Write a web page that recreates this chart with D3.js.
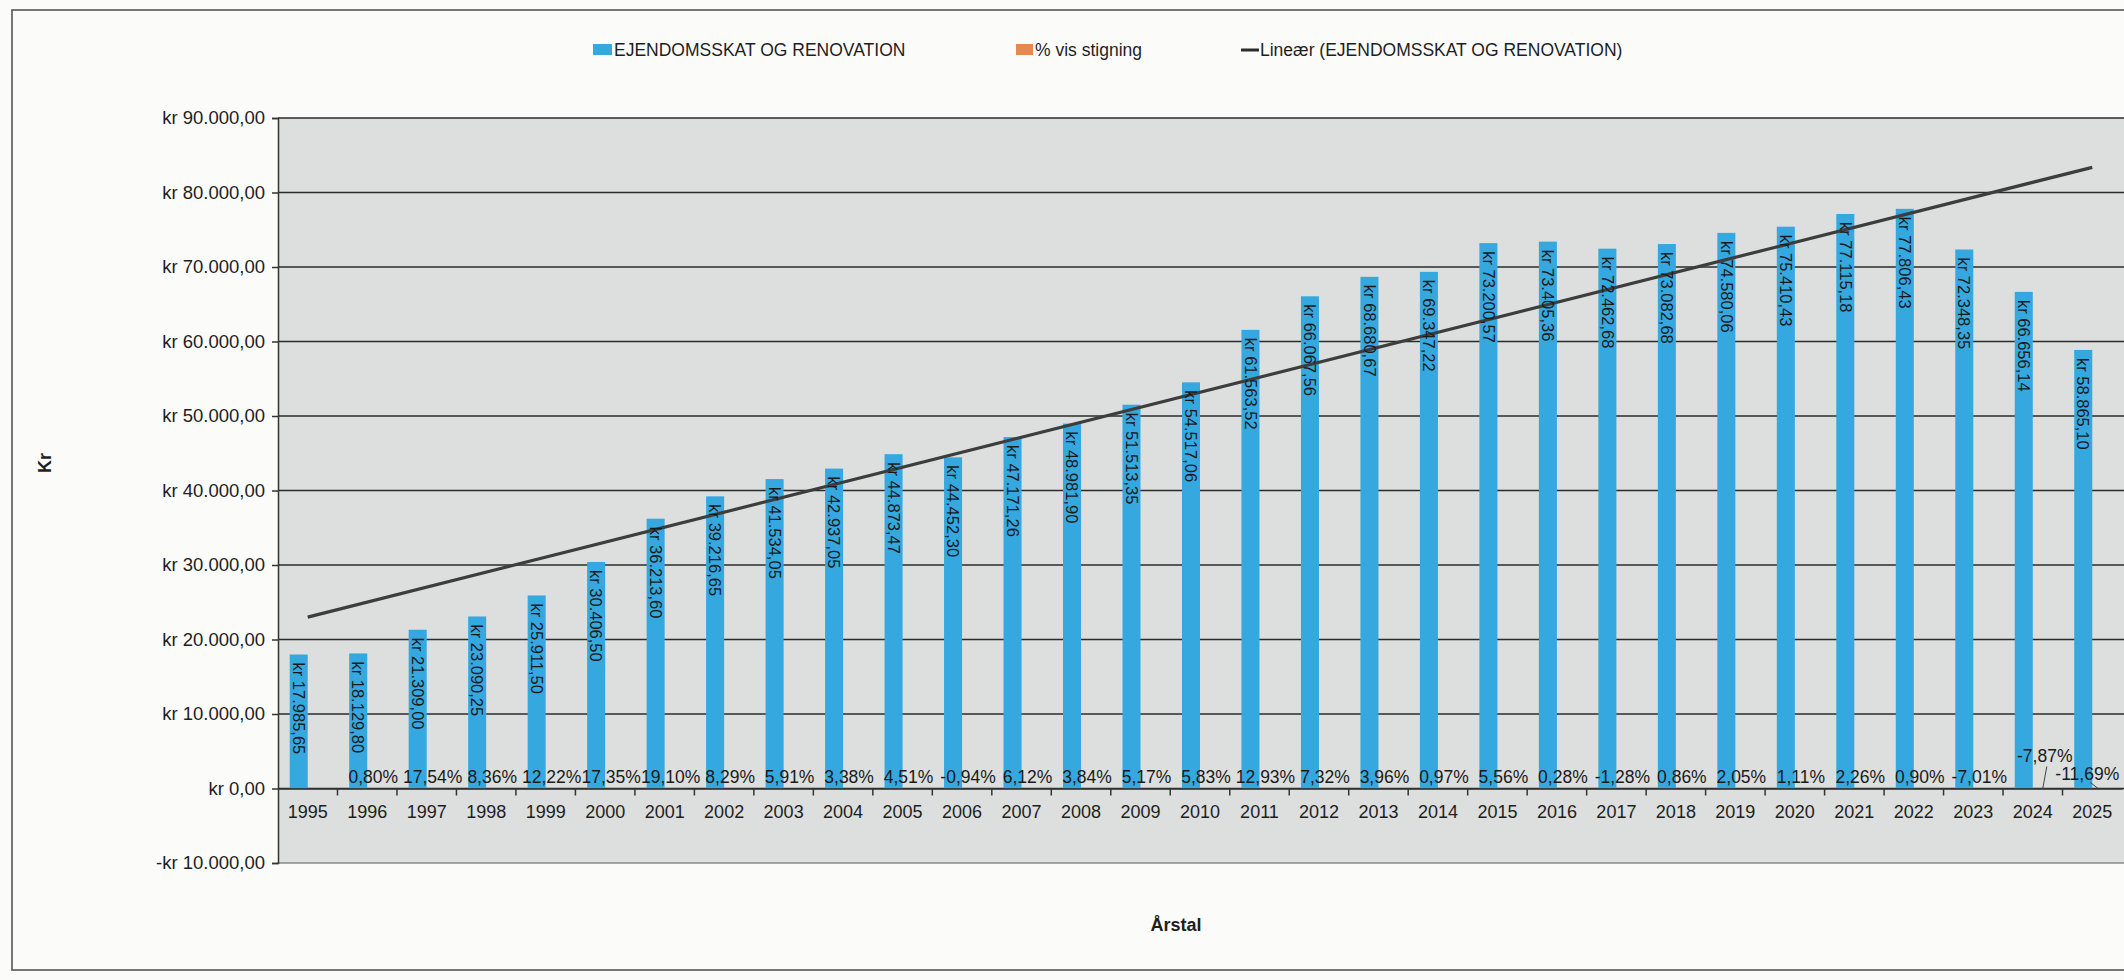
<!DOCTYPE html>
<html>
<head>
<meta charset="utf-8">
<script src="https://cdn.jsdelivr.net/npm/d3@7"></script>
<style>
  html, body { margin: 0; padding: 0; background: #fbfbfa; }
  svg { display: block; font-family: "Liberation Sans", Arial, sans-serif; }
</style>
</head>
<body>
<div id="chart"></div>
<script>
// data
const years = ["1995","1996","1997","1998","1999","2000","2001","2002","2003","2004","2005",
  "2006","2007","2008","2009","2010","2011","2012","2013","2014","2015",
  "2016","2017","2018","2019","2020","2021","2022","2023","2024","2025"];

const kroner = [17985.65, 18129.80, 21309.00, 23090.25, 25911.50, 30406.50, 36213.60, 39216.65,
  41534.05, 42937.05, 44873.47, 44452.30, 47171.26, 48981.90, 51513.35, 54517.06,
  61563.52, 66067.56, 68680.67, 69347.22, 73200.57, 73405.36, 72462.68, 73082.68,
  74580.06, 75410.43, 77115.18, 77806.43, 72348.35, 66656.14, 58865.10];

// "% vis stigning" (plotted on the kr axis, so the bars are invisible)
const pctIncrease = [null, 0.80, 17.54, 8.36, 12.22, 17.35, 19.10, 8.29, 5.91, 3.38, 4.51,
  -0.94, 6.12, 3.84, 5.17, 5.83, 12.93, 7.32, 3.96, 0.97, 5.56,
  0.28, -1.28, 0.86, 2.05, 1.11, 2.26, 0.90, -7.01, -7.87, -11.69];

const yTicks = [-10000, 0, 10000, 20000, 30000, 40000, 50000, 60000, 70000, 80000, 90000];

const seriesNames = ["EJENDOMSSKAT OG RENOVATION", "% vis stigning", "Lineær (EJENDOMSSKAT OG RENOVATION)"];

const W = 2124, H = 980;
const BLUE = "#35a8e0", ORANGE = "#e8874f", INK = "#1e1e1e";

const dk = d3.formatLocale({ decimal: ",", thousands: ".", grouping: [3], currency: ["kr ", ""], minus: "-" });
const fmtKr = dk.format("$,.2f");
const fmtPct = v => dk.format(".2f")(v) + "%";

const svg = d3.select("#chart").append("svg")
    .attr("width", W)
    .attr("height", H);

// outer chart border
svg.append("rect")
    .attr("x", 12).attr("y", 10)
    .attr("width", W + 20).attr("height", 960)
    .attr("fill", "none").attr("stroke", "#555").attr("stroke-width", 1.6);

// scales
const x0 = d3.scaleBand().domain(years).range([278, 2122]).paddingInner(0).paddingOuter(0);
const x1 = d3.scaleBand().domain(["kr", "pct"]).range([0, x0.bandwidth()]).paddingInner(0).paddingOuter(0.65);
const y = d3.scaleLinear().domain([-10000, 90000]).range([863, 118]);

// plot area
svg.append("rect")
    .attr("x", x0.range()[0]).attr("y", y(90000))
    .attr("width", x0.range()[1] - x0.range()[0] + 4)
    .attr("height", y(-10000) - y(90000))
    .attr("fill", "#dcdfdd");

// gridlines
svg.append("g")
    .selectAll("line")
    .data(yTicks)
    .join("line")
    .attr("x1", x0.range()[0]).attr("x2", W)
    .attr("y1", d => y(d)).attr("y2", d => y(d))
    .attr("stroke", d => d === -10000 ? "#8a8a8a" : "#2b2b2b")
    .attr("stroke-width", 1.5);

// y axis
const yAxis = svg.append("g")
    .attr("transform", `translate(${x0.range()[0]},0)`)
    .call(d3.axisLeft(y).tickValues(yTicks).tickFormat(fmtKr).tickSize(6).tickPadding(7));
yAxis.select(".domain").attr("stroke", "#333").attr("stroke-width", 1.5);
yAxis.selectAll(".tick line").attr("stroke", "#333").attr("stroke-width", 1.5);
yAxis.selectAll("text").attr("font-size", 18.5).attr("fill", INK);

// blue bars
const barW = x1.bandwidth();
svg.append("g")
    .selectAll("rect")
    .data(kroner)
    .join("rect")
    .attr("x", (d, i) => x0(years[i]) + x1("kr"))
    .attr("y", d => y(d))
    .attr("width", barW)
    .attr("height", d => y(0) - y(d))
    .attr("fill", BLUE);

// percent bars (a few kroner at most, practically flat)
svg.append("g")
    .selectAll("rect")
    .data(pctIncrease)
    .join("rect")
    .attr("x", (d, i) => x0(years[i]) + x1("pct"))
    .attr("y", d => y(Math.max(0, d || 0)))
    .attr("width", barW)
    .attr("height", d => Math.abs(y(0) - y(d || 0)))
    .attr("fill", ORANGE);

// x axis on zero line
const xAxis = svg.append("g")
    .attr("transform", `translate(0,${y(0)})`)
    .call(d3.axisBottom(x0).tickSize(0).tickPadding(17));
xAxis.select(".domain").attr("stroke", "#333").attr("stroke-width", 1.5);
xAxis.selectAll("text").attr("font-size", 18).attr("fill", INK);
// tick marks sit between categories
svg.append("g")
    .selectAll("line")
    .data(years.slice(1))
    .join("line")
    .attr("x1", d => x0(d)).attr("x2", d => x0(d))
    .attr("y1", y(0)).attr("y2", y(0) + 7)
    .attr("stroke", "#333").attr("stroke-width", 1.5);

// linear trendline (least squares on category index)
const n = kroner.length;
const mx = d3.mean(d3.range(n));
const my = d3.mean(kroner);
const slope = d3.sum(kroner, (v, i) => (i - mx) * (v - my)) / d3.sum(d3.range(n), i => (i - mx) * (i - mx));
const icpt = my - slope * mx;
const center = i => x0(years[i]) + x0.bandwidth() / 2;
svg.append("path")
    .datum([0, n - 1])
    .attr("d", d3.line().x(i => center(i)).y(i => y(icpt + slope * i)))
    .attr("fill", "none")
    .attr("stroke", "#3d3d3d")
    .attr("stroke-width", 3.2);

// value labels inside the blue bars, rotated
svg.append("g")
    .selectAll("text")
    .data(kroner)
    .join("text")
    .attr("transform", (d, i) => `translate(${x0(years[i]) + x1("kr") + barW / 2},${y(d) + 8}) rotate(90)`)
    .attr("dy", "0.35em")
    .attr("font-size", 16.5)
    .attr("fill", "#1a1a1a")
    .text(d => fmtKr(d));

// percent labels, 2024 and 2025 moved by hand in the original
const lift = { "2024": { dx: 6, dy: -21 }, "2025": { dx: -11, dy: -3 } };
const pctG = svg.append("g");
pctIncrease.forEach((v, i) => {
    if (v === null) return;
    const yr = years[i];
    const bx = x0(yr) + x1("pct") + barW / 2;
    const off = lift[yr] || { dx: 0, dy: 0 };
    const tx = bx + off.dx - 3, ty = y(0) - 6 + off.dy;
    pctG.append("text")
        .attr("x", tx).attr("y", ty)
        .attr("text-anchor", "middle")
        .attr("font-size", 17.5)
        .attr("fill", "#1a1a1a")
        .text(fmtPct(v));
});
// leader lines
pctG.append("line")
    .attr("x1", x0("2024") + x1("pct") + barW / 2 + 5).attr("y1", y(0) - 22)
    .attr("x2", x0("2024") + x1("pct") + barW / 2 + 1).attr("y2", y(0))
    .attr("stroke", "#444").attr("stroke-width", 1);
pctG.append("line")
    .attr("x1", x0("2025") + x1("pct") - 2).attr("y1", y(0) - 6)
    .attr("x2", x0("2025") + x1("pct") + 6).attr("y2", y(0))
    .attr("stroke", "#444").attr("stroke-width", 1);

// axis titles
svg.append("text")
    .attr("transform", "translate(45,463) rotate(-90)")
    .attr("text-anchor", "middle")
    .attr("dy", "0.35em")
    .attr("font-size", 18)
    .attr("font-weight", "bold")
    .attr("fill", INK)
    .text("Kr");
svg.append("text")
    .attr("x", 1176).attr("y", 925)
    .attr("text-anchor", "middle")
    .attr("dy", "0.35em")
    .attr("font-size", 18)
    .attr("font-weight", "bold")
    .attr("fill", INK)
    .text("Årstal");

// legend
const legend = svg.append("g").attr("font-size", 17.5).attr("fill", INK);
const legX = [593, 1016, 1241];
legend.append("rect").attr("x", legX[0]).attr("y", 44).attr("width", 19).attr("height", 11).attr("fill", BLUE);
legend.append("rect").attr("x", legX[1]).attr("y", 44).attr("width", 17).attr("height", 11).attr("fill", ORANGE);
legend.append("line").attr("x1", legX[2]).attr("x2", legX[2] + 18).attr("y1", 50).attr("y2", 50)
    .attr("stroke", "#2b2b2b").attr("stroke-width", 3);
legend.selectAll("text")
    .data(seriesNames)
    .join("text")
    .attr("x", (d, i) => legX[i] + (i === 0 ? 21 : 19))
    .attr("y", 50)
    .attr("dy", "0.35em")
    .text(d => d);
</script>
</body>
</html>
